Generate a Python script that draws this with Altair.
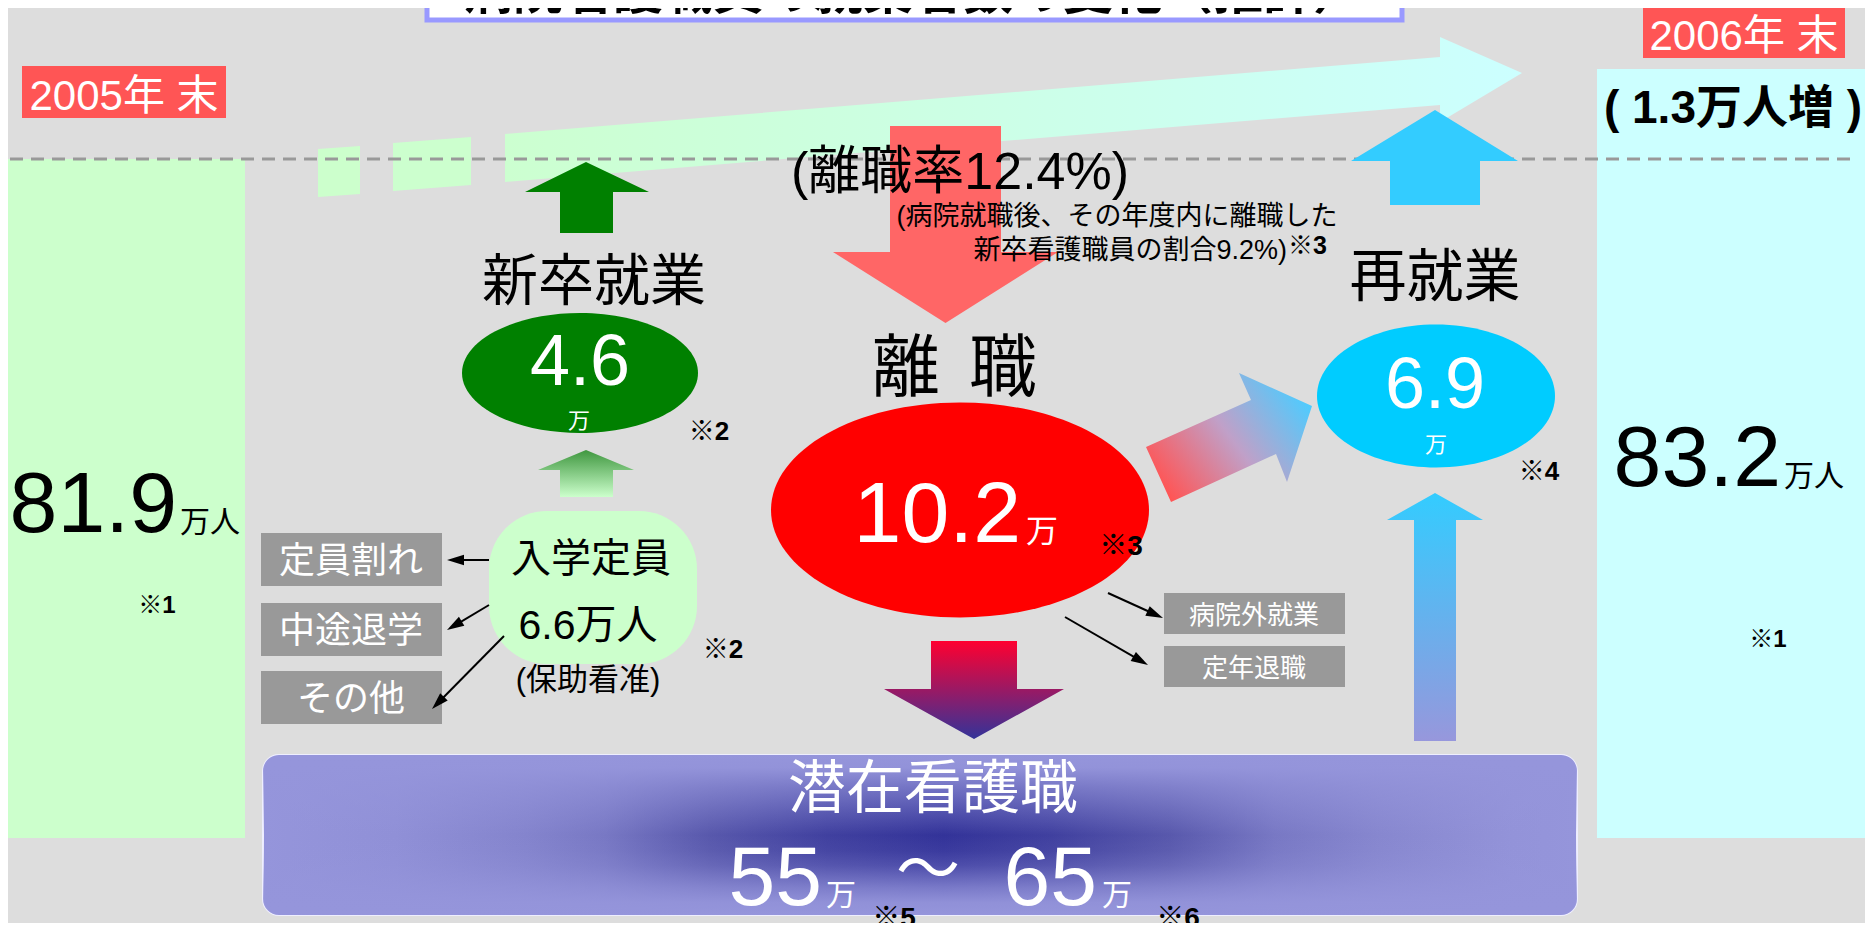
import math
import altair as alt
import pandas as pd

# ---------------- data ----------------
title_text = "病院看護職員の就業者数の変化（推計）"
years = ["2005年 末", "2006年 末"]
nurses_total = [81.9, 83.2]            # 万人
increase = 1.3                         # 万人増
flow_names = ["新卒就業", "離", "職", "再就業"]
flow_values = [4.6, 10.2, 6.9]         # 万 (新卒就業, 離職, 再就業)
intake_name = "入学定員"
intake_value = 6.6                     # 万人
intake_note = "(保助看准)"
intake_losses = ["定員割れ", "中途退学", "その他"]
leave_destinations = ["病院外就業", "定年退職"]
turnover_rate = 12.4                   # %
newgrad_turnover = 9.2                 # %
latent_name = "潜在看護職"
latent_range = [55, 65]                # 万
notes = ["※1", "※2", "※3", "※4", "※5", "※6"]

# ---------------- layout (page pixels) ----------------
W, H = 1857, 915
XS = alt.Scale(domain=[8, 1865], range=[0, W], nice=False, zero=False)
YS = alt.Scale(domain=[8, 923], range=[0, H], nice=False, zero=False)
FONT = "Liberation Sans, Arial, Noto Sans CJK JP, sans-serif"

BG = "#DDDDDD"


def X():
    return alt.X("x:Q", scale=XS, axis=None)


def Y():
    return alt.Y("y:Q", scale=YS, axis=None)


def rect(x1, x2, y1, y2, **kw):
    df = pd.DataFrame({"x": [x1], "x2": [x2], "y": [y1], "y2": [y2]})
    return alt.Chart(df).mark_rect(**kw).encode(
        x=X(), x2=alt.X2("x2:Q"), y=Y(), y2=alt.Y2("y2:Q"))


def poly(pts, fill):
    df = pd.DataFrame({"x": [p[0] for p in pts], "y": [p[1] for p in pts],
                       "o": list(range(len(pts)))})
    return alt.Chart(df).mark_line(
        fill=fill, stroke="transparent", strokeWidth=0, interpolate="linear-closed"
    ).encode(x=X(), y=Y(), order=alt.Order("o:Q"))


def ellipse_path(ratio):
    k = 0.5523
    r = ratio
    return (f"M 1 0 C 1 {k*r:.4f} {k:.4f} {r:.4f} 0 {r:.4f} "
            f"C {-k:.4f} {r:.4f} -1 {k*r:.4f} -1 0 "
            f"C -1 {-k*r:.4f} {-k:.4f} {-r:.4f} 0 {-r:.4f} "
            f"C {k:.4f} {-r:.4f} 1 {-k*r:.4f} 1 0 Z")


def ellipse(cx, cy, w, h, color):
    df = pd.DataFrame({"x": [cx], "y": [cy]})
    return alt.Chart(df).mark_point(
        shape=ellipse_path(h / w), size=w * w, filled=True, fill=color,
        opacity=1, strokeOpacity=0
    ).encode(x=X(), y=Y())


def txt(x, y, s, size, color="black", align="center", weight="normal",
        baseline="alphabetic"):
    df = pd.DataFrame({"x": [x], "y": [y], "t": [s]})
    return alt.Chart(df).mark_text(
        fontSize=size, color=color, align=align, fontWeight=weight,
        baseline=baseline, font=FONT
    ).encode(x=X(), y=Y(), text="t:N")


def arrows(segs, head=17):
    rows, heads = [], []
    for (x1, y1, x2, y2) in segs:
        dx, dy = x2 - x1, y2 - y1
        ln = math.hypot(dx, dy)
        ang = math.degrees(math.atan2(dx, -dy)) % 360
        rows.append({"x": x1, "y": y1, "x2": x2 - dx / ln * head * 0.6,
                     "y2": y2 - dy / ln * head * 0.6})
        heads.append({"x": x2 - dx / ln * head / 2, "y": y2 - dy / ln * head / 2,
                      "a": ang})
    lines = alt.Chart(pd.DataFrame(rows)).mark_rule(
        color="black", strokeWidth=2).encode(
        x=X(), y=Y(), x2=alt.X2("x2:Q"), y2=alt.Y2("y2:Q"))
    tips = alt.Chart(pd.DataFrame(heads)).mark_point(
        shape="M 0 -1 L 0.62 1 L -0.62 1 Z", size=head * head, filled=True,
        fill="black", opacity=1, strokeOpacity=0
    ).encode(x=X(), y=Y(), angle=alt.Angle("a:Q", scale=None))
    return [lines, tips]


def lin(stops, x1=0, y1=0, x2=1, y2=0):
    return alt.LinearGradient(
        gradient="linear", x1=x1, y1=y1, x2=x2, y2=y2,
        stops=[alt.GradientStop(offset=o, color=c) for o, c in stops])


layers = []

# title box (mostly above the visible area)
layers.append(rect(427, 1402, -40, 20, fill="white", stroke="#9999FF", strokeWidth=5))
layers.append(txt(913, 8.5, title_text, 50, weight="bold"))

# year columns
layers.append(rect(8, 245, 159, 838, fill="#CCFFCC"))
layers.append(rect(1597, 1868, 69, 838, fill="#CCFFFF"))

# big pale arrow (2005 -> 2006)
layers.append(poly([(318, 149), (360, 146), (360, 194), (318, 197)], "#CCFFCC"))
layers.append(poly([(393, 143), (471, 137), (471, 185), (393, 191)], "#CCFFCE"))
layers.append(poly([(505, 134), (1440, 57), (1440, 37), (1522, 73), (1440, 122),
                    (1440, 105), (505, 182)],
                   lin([(0, "#CCFFD0"), (1, "#CCFFFF")])))

# dashed reference line
layers.append(alt.Chart(pd.DataFrame({"x": [10], "x2": [1853], "y": [159]})).mark_rule(
    color="#999999", strokeWidth=3, strokeDash=[13, 8]).encode(
    x=X(), x2=alt.X2("x2:Q"), y=Y()))

# year labels
layers.append(rect(22, 226, 66, 118, fill="#FF5555"))
layers.append(txt(124, 110, years[0], 42, color="white"))
layers.append(rect(1643, 1845, 6, 58, fill="#FF5555"))
layers.append(txt(1744, 50, years[1], 42, color="white"))
layers.append(txt(1733, 123, f"( {increase}万人増 )", 46, weight="bold"))

# totals
layers.append(txt(177, 532, f"{nurses_total[0]}", 86, align="right"))
layers.append(txt(180, 532, "万人", 30, align="left"))
layers.append(txt(157, 613, notes[0], 24, weight="bold"))
layers.append(txt(1781, 486, f"{nurses_total[1]}", 86, align="right"))
layers.append(txt(1784, 486, "万人", 30, align="left"))
layers.append(txt(1768, 647, notes[0], 24, weight="bold"))

# arrows
layers.append(poly([(586, 162), (649, 192), (613, 192), (613, 233), (560, 233),
                    (560, 192), (525, 192)], "#008000"))
layers.append(poly([(586, 450), (634, 470), (613, 470), (613, 497), (560, 497),
                    (560, 470), (538, 470)],
                   lin([(0, "#3F973F"), (1, "#CCFFCC")], x2=0, y2=1)))
layers.append(poly([(890, 126), (1001, 126), (1001, 252), (1058, 252), (945.5, 323),
                    (833, 252), (890, 252)], "#FF6666"))
layers.append(poly([(1435, 110), (1518, 161), (1480, 161), (1480, 205), (1390, 205),
                    (1390, 161), (1351, 161)], "#33CCFF"))
layers.append(poly([(1435, 493), (1483, 520), (1456, 520), (1456, 741), (1414, 741),
                    (1414, 520), (1387, 520)],
                   lin([(0, "#33CCFF"), (1, "#9797DC")], x2=0, y2=1)))

# 新卒就業
layers.append(txt(594, 300, flow_names[0], 56))
layers.append(ellipse(580, 373, 236, 120, "#008000"))
layers.append(txt(580, 385, f"{flow_values[0]}", 72, color="white"))
layers.append(txt(579, 428, "万", 22, color="white"))
layers.append(txt(709, 440, notes[1], 26, weight="bold"))

# 入学定員
layers.append(rect(489, 697, 511, 664, fill="#CCFFCC", cornerRadius=58))
layers.append(txt(591, 572, intake_name, 40))
layers.append(txt(588, 639, f"{intake_value}万人", 41))
layers.append(txt(588, 690, intake_note, 31))
layers.append(txt(723, 658, notes[1], 26, weight="bold"))
for i, (y1, y2) in enumerate([(533, 586), (603, 656), (671, 724)]):
    layers.append(rect(261, 442, y1, y2, fill="#999999"))
    layers.append(txt(351, (y1 + y2) / 2 + 2, intake_losses[i], 36, color="white",
                      baseline="middle"))
layers += arrows([(489, 560, 447, 560), (489, 605, 447, 630), (504, 636, 432, 709)])

# 離職
layers.append(txt(960, 189, f"(離職率{turnover_rate}%)", 52))
layers.append(txt(1117, 225, "(病院就職後、その年度内に離職した", 27))
layers.append(txt(1287, 259, f"新卒看護職員の割合{newgrad_turnover}%)", 27, align="right"))
layers.append(txt(1288, 254, notes[2], 25, align="left", weight="bold"))
layers.append(txt(906, 391, flow_names[1], 68))
layers.append(txt(1003, 391, flow_names[2], 68))
layers.append(ellipse(960, 510, 378, 215, "#FF0000"))
layers.append(txt(1021, 542, f"{flow_values[1]}", 86, color="white", align="right"))
layers.append(txt(1026, 542, "万", 32, color="white", align="left"))
layers.append(txt(1121, 555, notes[2], 28, weight="bold"))
for i, (y1, y2) in enumerate([(593, 634), (646, 687)]):
    layers.append(rect(1164, 1345, y1, y2, fill="#999999"))
    layers.append(txt(1254, (y1 + y2) / 2 + 2, leave_destinations[i], 26,
                      color="white", baseline="middle"))
layers += arrows([(1108, 593, 1163, 618), (1065, 617, 1148, 665)])

# 離職 -> 潜在, 離職 -> 再就業
layers.append(poly([(931, 641), (1017, 641), (1017, 689), (1064, 689), (974, 739),
                    (884, 689), (931, 689)],
                   lin([(0, "#FF0030"), (1, "#333399")], x2=0, y2=1)))
layers.append(poly([(1146, 447), (1251, 400), (1239, 373), (1312, 406), (1287, 482),
                    (1276, 454), (1171, 502)],
                   lin([(0, "#FF5555"), (0.5, "#C0A0C8"), (1, "#4DCCFF")],
                       x1=0.05, y1=0.8, x2=1, y2=0.25)))

# 再就業
layers.append(txt(1435, 296, flow_names[3], 57))
layers.append(ellipse(1436, 396, 238, 143, "#00CCFF"))
layers.append(txt(1435, 408, f"{flow_values[2]}", 72, color="white"))
layers.append(txt(1436, 452, "万", 22, color="white"))
layers.append(txt(1539, 480, notes[3], 26, weight="bold"))

# 潜在看護職 box
layers.append(rect(263, 1577, 755, 915, cornerRadius=16, stroke="#EEEEFF", strokeWidth=2,
                   fill=lin([(0, "#9595DB"), (0.1, "#9090D7"), (0.2, "#8484CD"),
                             (0.26, "#7878C4"), (0.34, "#5858AC"), (0.43, "#40409F"),
                             (0.518, "#333399"), (0.6, "#40409F"), (0.69, "#5858AC"),
                             (0.77, "#7878C4"), (0.85, "#8787CF"), (0.95, "#9393D9"),
                             (1, "#9595DB")])))
layers.append(rect(263, 1577, 755, 915, cornerRadius=16,
                   fill=lin([(0, "rgba(149,149,219,1)"), (0.08, "rgba(149,149,219,0.97)"),
                             (0.2, "rgba(149,149,219,0.66)"), (0.36, "rgba(149,149,219,0.3)"),
                             (0.5, "rgba(149,149,219,0)"), (0.6, "rgba(149,149,219,0.08)"),
                             (0.69, "rgba(149,149,219,0.26)"), (0.83, "rgba(149,149,219,0.72)"),
                             (0.92, "rgba(149,149,219,0.95)"), (1, "rgba(149,149,219,1)")],
                            x2=0, y2=1)))
layers.append(txt(933, 808, latent_name, 58, color="white"))
layers.append(txt(822, 905, f"{latent_range[0]}", 84, color="white", align="right"))
layers.append(txt(826, 905, "万", 30, color="white", align="left"))
layers.append(txt(928, 891, "～", 64, color="white"))
layers.append(txt(1097, 905, f"{latent_range[1]}", 84, color="white", align="right"))
layers.append(txt(1102, 905, "万", 30, color="white", align="left"))
layers.append(txt(894, 927, notes[4], 28, weight="bold"))
layers.append(txt(1178, 927, notes[5], 28, weight="bold"))

chart = alt.layer(*layers).properties(
    width=W, height=H, background=BG, padding=0, autosize="none"
).configure_view(strokeWidth=0, fill=BG)

chart.save("out.html", embed_options={"renderer": "svg", "actions": False})
